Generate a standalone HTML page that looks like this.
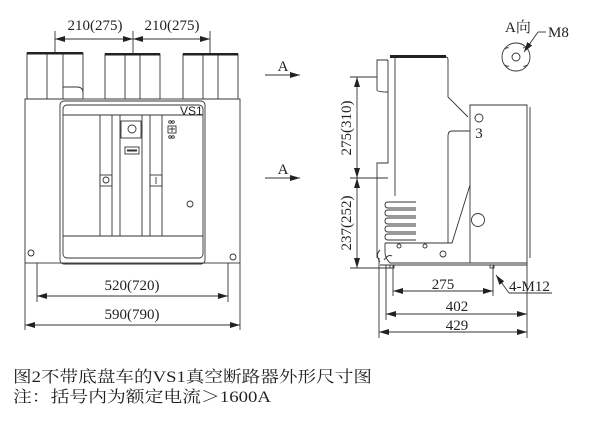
<!DOCTYPE html>
<html><head><meta charset="utf-8"><style>
html,body{margin:0;padding:0;background:#fff;}
svg{display:block;}
text{font-family:"Liberation Serif","Noto Serif CJK SC",serif;fill:#222;}
</style></head><body>
<svg width="600" height="426" viewBox="0 0 600 426" xmlns="http://www.w3.org/2000/svg">
<defs>
<marker id="ar" viewBox="0 0 10 6" refX="10" refY="3" markerWidth="10" markerHeight="6" orient="auto-start-reverse" markerUnits="userSpaceOnUse"><path d="M0,0L10,3L0,6z" fill="#222"/></marker>
</defs>
<g fill="none" stroke="#333" stroke-width="0.9">
<rect x="27" y="53" width="56" height="46"/><line x1="47" y1="53" x2="47" y2="99"/><line x1="63" y1="53" x2="63" y2="99"/>
<path d="M63,87 H77 Q83,87 83,93"/>
<rect x="105" y="54" width="55" height="45"/><line x1="125" y1="54" x2="125" y2="99"/><line x1="140" y1="54" x2="140" y2="99"/>
<rect x="183" y="54" width="55" height="45"/><line x1="203" y1="54" x2="203" y2="99"/><line x1="218" y1="54" x2="218" y2="99"/>
<rect x="25" y="99" width="215" height="164"/>
<rect x="60" y="101" width="145" height="163" rx="4"/>
<rect x="63" y="105" width="140" height="153" rx="4"/>
<line x1="63" y1="115" x2="203" y2="115"/>
<line x1="63" y1="236" x2="203" y2="236"/>
<rect x="100" y="115" width="12" height="121"/>
<rect x="120" y="115" width="22" height="121"/>
<rect x="150" y="115" width="12" height="121"/>
<rect x="121" y="121" width="20" height="17"/><circle cx="132" cy="129" r="4"/>
<rect x="125" y="147" width="14" height="7"/><line x1="127" y1="150.5" x2="137" y2="150.5" stroke-width="2"/>
<rect x="100" y="175" width="12" height="11"/><circle cx="106" cy="180" r="3"/>
<rect x="150" y="175" width="12" height="11"/><line x1="156" y1="177" x2="156" y2="184"/>
<rect x="168" y="126" width="8" height="7"/><line x1="172" y1="127" x2="172" y2="132"/><line x1="169" y1="129" x2="175" y2="129"/>
<circle cx="170" cy="122" r="1.3"/><circle cx="173" cy="122" r="1.3"/><circle cx="170" cy="137" r="1.3"/><circle cx="173" cy="137" r="1.3"/>
<circle cx="190" cy="204" r="3"/>
<circle cx="31" cy="253" r="3"/><circle cx="233" cy="257" r="3"/>
<line x1="55" y1="31" x2="55" y2="53"/><line x1="133" y1="31" x2="133" y2="54"/><line x1="210" y1="31" x2="210" y2="54"/>
<line x1="55" y1="39" x2="133" y2="39" marker-start="url(#ar)" marker-end="url(#ar)"/>
<line x1="133" y1="39" x2="210" y2="39" marker-start="url(#ar)" marker-end="url(#ar)"/>
<line x1="37" y1="263" x2="37" y2="302"/><line x1="228" y1="263" x2="228" y2="302"/>
<line x1="25" y1="263" x2="25" y2="330"/><line x1="240" y1="263" x2="240" y2="330"/>
<line x1="37" y1="296" x2="228" y2="296" marker-start="url(#ar)" marker-end="url(#ar)"/>
<line x1="25" y1="325" x2="240" y2="325" marker-start="url(#ar)" marker-end="url(#ar)"/>
<line x1="265" y1="75" x2="300" y2="75" marker-end="url(#ar)"/>
<line x1="265" y1="178" x2="300" y2="178" marker-end="url(#ar)"/>
<path d="M388,60 H377 V90 Q377,92 388,92"/>
<path d="M390,57 H446 Q448,57 448,60 V97 L468,117"/>
<path d="M388,60 V163 H377 V258"/>
<line x1="395" y1="57" x2="395" y2="196"/>
<path d="M470,105 H527 V263 H470 Z" />
<line x1="530" y1="107" x2="530" y2="258"/>
<path d="M470,131 H452 Q448,131 448,136 V243"/>
<path d="M470,185 L452,243 H385"/>
<circle cx="479" cy="118" r="4"/>
<circle cx="478" cy="220" r="6.5"/>
<path d="M385,243 V252 Q385,258 390,263 H470"/>
<path d="M380,250 Q375,255 380,262"/>
<path d="M384,260 Q388,254 392,256"/>
<circle cx="399" cy="246" r="2"/><circle cx="425" cy="246" r="2"/><circle cx="443" cy="254" r="3"/>
<line x1="380" y1="265" x2="527" y2="265"/>
<rect x="390" y="265" width="4" height="3"/><rect x="490" y="265" width="4" height="3"/>
<g>
<path d="M416,202 H388 Q385,202 385,205 Q385,208 388,208 H416"/>
<path d="M416,210 H388 Q385,210 385,213 Q385,216 388,216 H416"/>
<path d="M416,218 H388 Q385,218 385,221 Q385,224 388,224 H416"/>
<path d="M416,226 H388 Q385,226 385,229 Q385,232 388,232 H416"/>
<path d="M416,234 H388 Q385,234 385,237 Q385,240 388,240 H416"/>
</g>
<line x1="350" y1="77" x2="377" y2="77"/><line x1="350" y1="178" x2="388" y2="178"/><line x1="350" y1="268" x2="392" y2="268"/>
<line x1="357" y1="77" x2="357" y2="178" marker-start="url(#ar)" marker-end="url(#ar)"/>
<line x1="357" y1="178" x2="357" y2="268" marker-start="url(#ar)" marker-end="url(#ar)"/>
<line x1="379" y1="258" x2="379" y2="338"/><line x1="386" y1="265" x2="386" y2="320"/>
<line x1="527" y1="263" x2="527" y2="338"/><line x1="393" y1="265" x2="393" y2="296"/><line x1="493" y1="265" x2="493" y2="296"/>
<line x1="393" y1="291" x2="493" y2="291" marker-start="url(#ar)" marker-end="url(#ar)"/>
<line x1="386" y1="314" x2="527" y2="314" marker-start="url(#ar)" marker-end="url(#ar)"/>
<line x1="379" y1="332" x2="527" y2="332" marker-start="url(#ar)" marker-end="url(#ar)"/>
<line x1="552" y1="293" x2="509" y2="293"/><line x1="509" y1="293" x2="496" y2="275" marker-end="url(#ar)"/>
<circle cx="516" cy="57" r="14"/><circle cx="516" cy="57" r="4"/>
<path d="M505,49 q2,-2 4,-1"/><path d="M505,65 q2,2 4,1"/><path d="M527,49 q-2,-2 -4,-1"/><path d="M527,65 q-2,2 -4,1"/>
<line x1="546" y1="32" x2="538" y2="32"/><line x1="538" y1="32" x2="524" y2="52" marker-end="url(#ar)"/>
</g>
<rect x="27" y="52" width="56" height="2.5" fill="#222"/>
<rect x="105" y="53" width="55" height="2.5" fill="#222"/>
<rect x="183" y="53" width="55" height="2.5" fill="#222"/>
<rect x="390" y="55" width="56" height="3" fill="#222"/>
<g font-size="15">
<text x="95" y="30" text-anchor="middle">210(275)</text>
<text x="172" y="30" text-anchor="middle">210(275)</text>
<text x="132" y="290" text-anchor="middle">520(720)</text>
<text x="132" y="319" text-anchor="middle">590(790)</text>
<text x="283" y="71" text-anchor="middle">A</text>
<text x="283" y="174" text-anchor="middle">A</text>
<text x="443" y="289" text-anchor="middle">275</text>
<text x="457" y="311" text-anchor="middle">402</text>
<text x="457" y="330" text-anchor="middle">429</text>
<text x="509" y="291">4-M12</text>
<text x="548" y="37">M8</text>
<text x="505" y="32">A向</text>
<text x="479" y="138" text-anchor="middle">3</text>
<text transform="translate(351,128) rotate(-90)" text-anchor="middle">275(310)</text>
<text transform="translate(351,223) rotate(-90)" text-anchor="middle">237(252)</text>
</g>
<text x="180" y="115" font-size="12" style="font-family:'Liberation Sans',sans-serif">VS1</text>
<text x="13" y="382" font-size="16" textLength="359" lengthAdjust="spacingAndGlyphs">图2不带底盘车的VS1真空断路器外形尺寸图</text>
<text x="13" y="402" font-size="16" textLength="258" lengthAdjust="spacingAndGlyphs">注：括号内为额定电流＞1600A</text>
</svg>
</body></html>
